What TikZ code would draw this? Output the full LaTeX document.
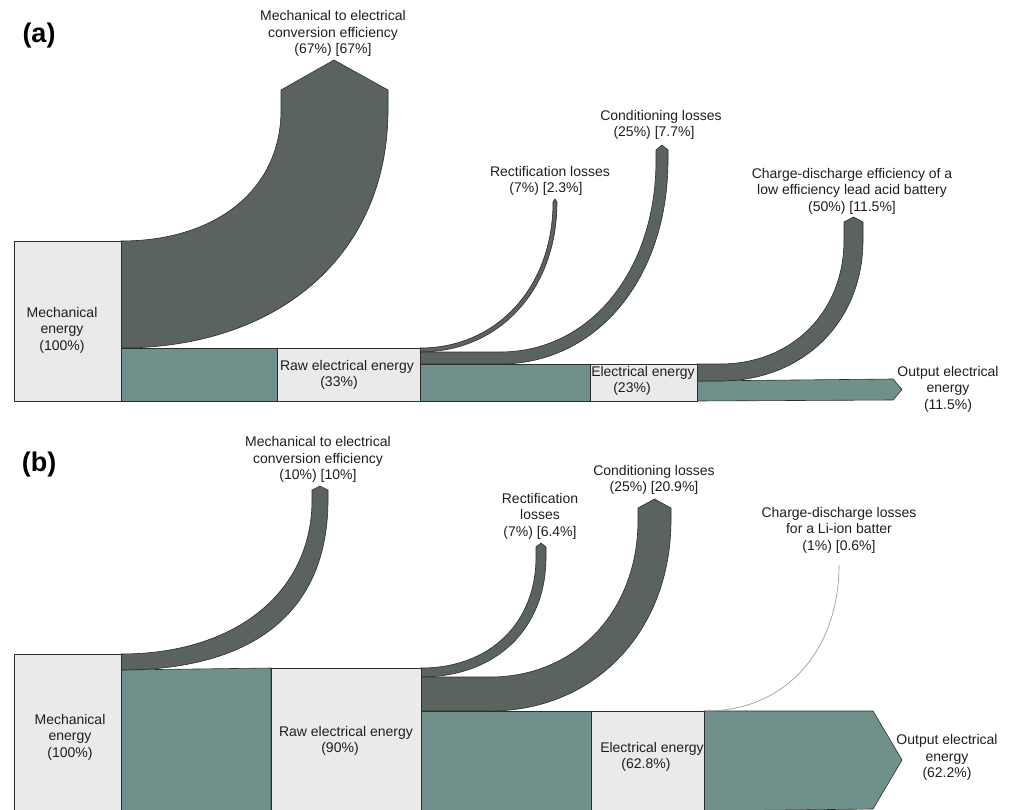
\documentclass[tikz,border=0pt]{standalone}
\usepackage{fontspec}
\setmainfont{Liberation Sans}
\definecolor{bandd}{RGB}{90,99,94}
\definecolor{bandt}{RGB}{112,145,139}
\definecolor{boxf}{RGB}{234,234,234}
\definecolor{edge}{RGB}{45,45,45}
\definecolor{txt}{RGB}{30,30,30}
\begin{document}
\begin{tikzpicture}[x=1pt,y=-1pt,
  band/.style={draw=edge, line width=0.6pt, line join=miter},
  dk/.style={band, fill=bandd},
  tl/.style={band, fill=bandt},
  ebox/.style={draw=edge, line width=0.6pt, fill=boxf, inner sep=0pt, outer sep=0pt},
  lbl/.style={font=\fontsize{14}{16.5}\selectfont, align=center, inner sep=0pt, text=txt},
  tag/.style={font=\fontsize{27}{30}\selectfont\bfseries, inner sep=0pt, text=black}]
\useasboundingbox (0,0) rectangle (1009,810);

% ---------------- panel (a) ----------------
\path[tl] (121,348) -- (277,348) -- (277,401) -- (121,401) -- cycle;
\path[tl] (420,364) -- (590,364) -- (590,401) -- (420,401) -- cycle;
\path[tl] (697,381) -- (893,379) -- (902,389.5) -- (893,400) -- (697,401) -- cycle;

\path[dk] (121,241) .. controls (217,241) and (281,189) .. (281,110) -- (281,90) -- (334,60) -- (388,90) -- (388,110)
  .. controls (388,253) and (281,348) .. (121,348) -- cycle;
\path[dk] (420,348) .. controls (497,348) and (553,287) .. (553,202) -- (555,199) -- (557,202)
  .. controls (557,289) and (500,352) .. (420,352) -- cycle;
\path[dk] (420,352) -- (500,352) .. controls (590,352) and (656,271) .. (656,160) -- (656,150) -- (662,145) -- (668,150) -- (668,160)
  .. controls (668,278) and (597,364) .. (500,364) -- (420,364) -- cycle;
\path[dk] (697,364) -- (720,364) .. controls (792,364) and (844,312) .. (844,240) -- (844,222) -- (853.5,217) -- (863,222) -- (863,240)
  .. controls (863,322) and (803,381) .. (720,381) -- (697,381) -- cycle;

\node[ebox, minimum width=107pt, minimum height=160pt] (mechA) at (67.5,321) {};
\node[ebox, minimum width=143pt, minimum height=53pt] (rawA) at (348.5,374.5) {};
\node[ebox, minimum width=107pt, minimum height=37pt] (elecA) at (643.5,382.5) {};

\node[tag] (tagA) at (39,36) {(a)};
\node[lbl] (convA) at (333,33.5) {Mechanical to electrical\\conversion efficiency\\(67\%) [67\%]};
\node[lbl] (mechAt) at (62,330) {Mechanical\\energy\\(100\%)};
\node[lbl] (rawAt) at (347,375) {Raw electrical energy\\(33\%)\hspace*{16pt}};
\node[lbl] (rectAt) at (550,181) {Rectification losses\\(7\%) [2.3\%]\hspace*{8pt}};
\node[lbl] (condAt) at (661,125) {Conditioning losses\\(25\%) [7.7\%]\hspace*{14pt}};
\node[lbl] (chgAt) at (852,191) {Charge-discharge efficiency of a\\low efficiency lead acid battery\\(50\%) [11.5\%]};
\node[lbl] (elecAt) at (643,381) {Electrical energy\\(23\%)\hspace*{22pt}};
\node[lbl] (outAt) at (948,389) {Output electrical\\energy\\(11.5\%)};

% ---------------- panel (b) ----------------
\path[tl] (121,670) -- (271,668) -- (271,811) -- (121,811) -- cycle;
\path[tl] (421,711) -- (591,711) -- (591,811) -- (421,811) -- cycle;
\path[tl] (704,711) -- (873,711) -- (902,760) -- (873,809) -- (704,811) -- cycle;

\path[dk] (121,654) .. controls (236,654) and (312,592) .. (312,500) -- (312,490) -- (320,486) -- (328,490) -- (328,500)
  .. controls (328,610) and (256,670) .. (121,670) -- cycle;
\path[dk] (421,668) .. controls (490,668) and (536,623) .. (536,557) -- (536,547) -- (541,543) -- (546,547) -- (546,557)
  .. controls (546,629) and (496,677) .. (421,677) -- cycle;
\path[dk] (421,677) -- (490,677) .. controls (576,677) and (638,611) .. (638,520) -- (638,508) -- (654.5,499) -- (671,508) -- (671,520)
  .. controls (671,631) and (595,711) .. (490,711) -- (421,711) -- cycle;

\node[ebox, minimum width=107pt, minimum height=157pt] (mechB) at (67.5,732.5) {};
\node[ebox, minimum width=150pt, minimum height=143pt] (rawB) at (346,739.5) {};
\node[ebox, minimum width=113pt, minimum height=100pt] (elecB) at (647.5,761) {};

\coordinate (chgBstart) at (706,711);
\coordinate (chgBend) at (839,565);
\draw[gray!75, line width=0.7pt] (chgBstart) .. controls (786,711) and (839,650) .. (chgBend);

\node[tag] (tagB) at (39,465) {(b)};
\node[lbl] (convB) at (318,459.5) {Mechanical to electrical\\conversion efficiency\\(10\%) [10\%]};
\node[lbl] (mechBt) at (70,737) {Mechanical\\energy\\(100\%)};
\node[lbl] (rawBt) at (346,741) {Raw electrical energy\\(90\%)\hspace*{12pt}};
\node[lbl] (rectBt) at (540,516) {Rectification\\losses\\(7\%) [6.4\%]};
\node[lbl] (condBt) at (654,480) {Conditioning losses\\(25\%) [20.9\%]};
\node[lbl] (chgBt) at (839,530) {Charge-discharge losses\\for a Li-ion batter\\(1\%) [0.6\%]};
\node[lbl] (elecBt) at (652,757) {Electrical energy\\(62.8\%)\hspace*{12pt}};
\node[lbl] (outBt) at (947,757.5) {Output electrical\\energy\\(62.2\%)};
\end{tikzpicture}
\end{document}
